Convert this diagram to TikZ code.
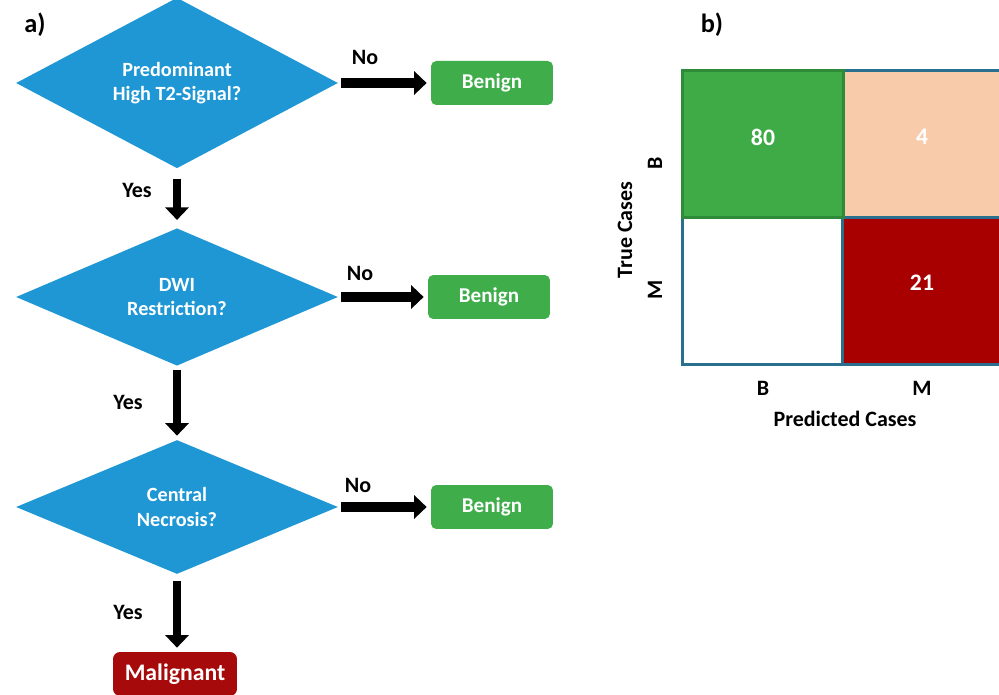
\documentclass[tikz,border=0pt]{standalone}
\usepackage{fontspec}
\setmainfont{Carlito}
\usetikzlibrary{shapes.geometric,arrows.meta}

\definecolor{qblue}{HTML}{1F97D4}
\definecolor{okgreen}{HTML}{3EAD4A}
\definecolor{badred}{HTML}{A60A0A}
\definecolor{cellgreen}{HTML}{3EAB46}
\definecolor{cellpeach}{HTML}{F8CBAA}
\definecolor{cellred}{HTML}{A80000}
\definecolor{cellline}{HTML}{2B6F8E}
\definecolor{greenline}{HTML}{2F8A3A}

\begin{document}
\begin{tikzpicture}[x=0.02cm, y=-0.02cm,
    question/.style={diamond, fill=qblue, text=white, align=center, inner sep=0pt,
        minimum width=6.44cm, minimum height=2.68cm, font=\bfseries\fontsize{11.5}{14}\selectfont},
    outcome/.style={rectangle, rounded corners=3pt, text=white, minimum width=2.44cm,
        minimum height=0.88cm, font=\bfseries\fontsize{12}{14}\selectfont},
    flow/.style={line width=0.16cm, -{Triangle[length=0.25cm, width=0.46cm]}},
    side/.style={flow, line width=0.2cm},
    lbl/.style={font=\bfseries\fontsize{12.5}{15}\selectfont},
    num/.style={text=white, font=\bfseries\fontsize{13.5}{16}\selectfont},
    cell/.style={rectangle, line width=1.6pt, draw=cellline, minimum width=3.22cm, minimum height=2.94cm}]

    % Page frame
    \useasboundingbox (0,0) rectangle (999,695);

    % Panel titles
    \node[font=\bfseries\fontsize{15}{18}\selectfont] (ta) at (35,25) {a)};
    \node[font=\bfseries\fontsize{15}{18}\selectfont] (tb) at (712,25) {b)};

    % Decision nodes
    \node[question] (q1) at (177,83) {Predominant\\High T2-Signal?};
    \node[question] (q2) at (177,297) {DWI\\Restriction?};
    \node[question] (q3) at (177,507) {Central\\Necrosis?};

    % Outcomes
    \node[outcome, fill=okgreen] (b1) at (492,83) {Benign};
    \node[outcome, fill=okgreen] (b2) at (489,297) {Benign};
    \node[outcome, fill=okgreen] (b3) at (492,507) {Benign};
    \node[outcome, fill=badred, rounded corners=4pt, minimum width=2.48cm,
        font=\bfseries\fontsize{13.5}{16}\selectfont] (mal) at (175,674) {Malignant};

    % Arrows
    \draw[side, shorten <=0.06cm, shorten >=0.08cm] (q1.east) -- (b1.west);
    \draw[side, shorten <=0.06cm, shorten >=0.08cm] (q2.east) -- (b2.west);
    \draw[side, shorten <=0.06cm, shorten >=0.08cm] (q3.east) -- (b3.west);
    \draw[flow, shorten <=0.2cm, shorten >=0.16cm] (q1.south) -- (q2.north);
    \draw[flow, shorten <=0.08cm, shorten >=0.08cm] (q2.south) -- (q3.north);
    \draw[flow, shorten <=0.14cm, shorten >=0.08cm] (q3.south) -- (q3.south |- mal.north);

    % Arrow labels
    \node[lbl] (no1) at (365,57) {No};
    \node[lbl] (no2) at (360,273) {No};
    \node[lbl] (no3) at (358,485) {No};
    \node[lbl] (yes1) at (137,190) {Yes};
    \node[lbl] (yes2) at (128,402) {Yes};
    \node[lbl] (yes3) at (128,612) {Yes};

    % Confusion matrix cells
    \node[cell, fill=white] (mb) at (763,291) {};
    \node[cell, fill=cellred] (mm) at (923,291) {};
    \node[cell, fill=cellpeach] (bm) at (923,144) {};
    \node[cell, fill=cellgreen, draw=greenline] (bb) at (763,144) {};

    % Counts
    \node[num] (n80) at (763,137) {80};
    \node[num] (n4) at (922,137) {4};
    \node[num] (n21) at (922,283) {21};

    % Axis labels
    \node[lbl, rotate=90] (rb) at (655,163) {B};
    \node[lbl, rotate=90] (rm) at (655,290) {M};
    \node[lbl, rotate=90] (rt) at (625,230) {True Cases};
    \node[lbl] (cb) at (763,388) {B};
    \node[lbl] (cm) at (922,388) {M};
    \node[lbl] (cp) at (845,419) {Predicted Cases};
\end{tikzpicture}
\end{document}
